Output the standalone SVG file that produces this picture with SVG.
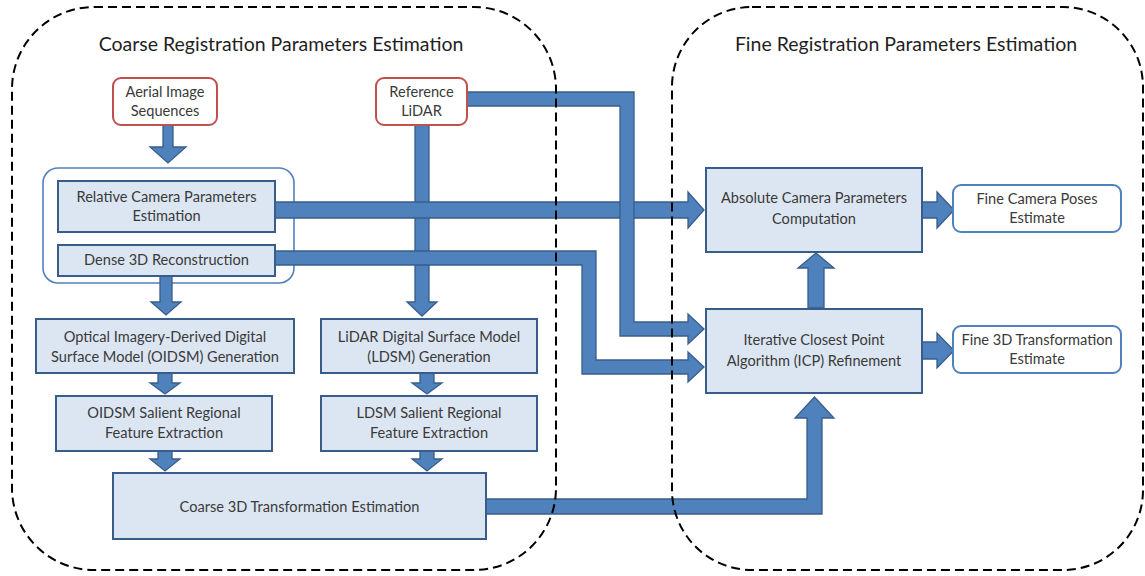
<svg xmlns="http://www.w3.org/2000/svg" width="1145" height="576" viewBox="0 0 1145 576">
<style>
.cont{fill:none;stroke:#000;stroke-width:2;stroke-dasharray:9 5}
.title{font-family:Lato,"Liberation Sans",sans-serif;font-size:19.5px;fill:#1f1f1f;text-anchor:middle}
.t{font-family:Lato,"Liberation Sans",sans-serif;font-size:14.6px;fill:#3a3a3a;text-anchor:middle}
.proc{fill:#dce6f2;stroke:#385d8a;stroke-width:2}
.src{fill:#fff;stroke:#c0504d;stroke-width:2}
.out{fill:#fff;stroke:#4f81bd;stroke-width:2}
.grp{fill:#fff;stroke:#4f81bd;stroke-width:1.6}
.arr{fill:#4f81bd;stroke:#385d8a;stroke-width:1.3;stroke-linejoin:miter}
</style>
<rect width="1145" height="576" fill="#fff"/>
<g id="aerial-group">
<rect class="grp" x="43" y="168" width="251" height="115" rx="15" ry="15"/>
</g>
<g id="connectors">
<path class="arr" d="M163,125 V147 H150 L168,163 L186,147 H173 V125 Z"/>
<path class="arr" d="M415,125 V302 H407 L422,316 L437,302 H429 V125 Z"/>
<path class="arr" d="M160,276 V302 H151 L166,315 L181,302 H172 V276 Z"/>
<path class="arr" d="M158,373 V383 H150 L165,394 L180,383 H172 V373 Z"/>
<path class="arr" d="M158,451 V459 H150 L165,471 L180,459 H172 V451 Z"/>
<path class="arr" d="M420,373 V383 H412 L427,394 L442,383 H434 V373 Z"/>
<path class="arr" d="M420,451 V459 H412 L427,471 L442,459 H434 V451 Z"/>
<path class="arr" d="M275,202 H688 V192 L704,210 L688,228 V218 H275 Z"/>
<path class="arr" d="M275,251 H596 V360 H688 V352 L704,367 L688,382 V374 H582 V265 H275 Z"/>
<path class="arr" d="M467,92 H634 V322 H688 V314 L704,329 L688,344 V336 H620 V106 H467 Z"/>
<path class="arr" d="M486,499 H807 V418 H795 L814.5,397 L834,418 H822 V514 H486 Z"/>
<path class="arr" d="M808,308 V268 H798 L816,253 L834,268 H824 V308 Z"/>
<path class="arr" d="M922,202 H937 V192 L954,210 L937,228 V218 H922 Z"/>
<path class="arr" d="M922,342 H937 V333 L954,350.5 L937,368 V359 H922 Z"/>
</g>
<g id="coarse-container">
<rect class="cont" x="12" y="7" width="544" height="563" rx="82" ry="82"/>
<text class="title" x="281" y="51">Coarse Registration Parameters Estimation</text>
</g>
<g id="fine-container">
<rect class="cont" x="672" y="7" width="471" height="563" rx="80" ry="80"/>
<text class="title" x="906" y="51">Fine Registration Parameters Estimation</text>
</g>
<g id="aerial">
<rect class="src" x="113" y="78" width="104" height="47" rx="8" ry="8"/>
<text class="t" x="165" y="97">Aerial Image</text>
<text class="t" x="165" y="116">Sequences</text>
</g>
<g id="reference-lidar">
<rect class="src" x="376" y="78" width="91" height="47" rx="8" ry="8"/>
<text class="t" x="421.5" y="97">Reference</text>
<text class="t" x="421.5" y="116">LiDAR</text>
</g>
<g id="relative-camera">
<rect class="proc" x="58" y="181" width="217" height="51"/>
<text class="t" x="166.5" y="202">Relative Camera Parameters</text>
<text class="t" x="166.5" y="221">Estimation</text>
</g>
<g id="dense-3d">
<rect class="proc" x="58" y="245" width="217" height="31"/>
<text class="t" x="166.5" y="265">Dense 3D Reconstruction</text>
</g>
<g id="oidsm-gen">
<rect class="proc" x="36" y="319" width="258" height="54"/>
<text class="t" x="165" y="342">Optical Imagery-Derived  Digital</text>
<text class="t" x="165" y="362">Surface Model (OIDSM)  Generation</text>
</g>
<g id="ldsm-gen">
<rect class="proc" x="321" y="319" width="216" height="54"/>
<text class="t" x="429" y="342">LiDAR Digital Surface Model</text>
<text class="t" x="429" y="362">(LDSM) Generation</text>
</g>
<g id="oidsm-feat">
<rect class="proc" x="56" y="396" width="216" height="55"/>
<text class="t" x="164" y="418">OIDSM Salient Regional</text>
<text class="t" x="164" y="438">Feature Extraction</text>
</g>
<g id="ldsm-feat">
<rect class="proc" x="321" y="396" width="216" height="55"/>
<text class="t" x="429" y="418">LDSM Salient Regional</text>
<text class="t" x="429" y="438">Feature Extraction</text>
</g>
<g id="coarse-3d">
<rect class="proc" x="113" y="473" width="373" height="66"/>
<text class="t" x="299.5" y="512">Coarse 3D Transformation Estimation</text>
</g>
<g id="absolute-camera">
<rect class="proc" x="706" y="168" width="216" height="84"/>
<text class="t" x="814" y="203">Absolute Camera  Parameters</text>
<text class="t" x="814" y="224">Computation</text>
</g>
<g id="icp">
<rect class="proc" x="706" y="309" width="216" height="84"/>
<text class="t" x="814" y="345">Iterative Closest  Point</text>
<text class="t" x="814" y="366">Algorithm (ICP) Refinement</text>
</g>
<g id="fine-camera">
<rect class="out" x="953" y="185" width="168" height="47" rx="8" ry="8"/>
<text class="t" x="1037" y="204">Fine Camera Poses</text>
<text class="t" x="1037" y="223">Estimate</text>
</g>
<g id="fine-3d">
<rect class="out" x="953" y="326" width="168" height="47" rx="8" ry="8"/>
<text class="t" x="1037" y="345">Fine 3D Transformation</text>
<text class="t" x="1037" y="364">Estimate</text>
</g>
</svg>
